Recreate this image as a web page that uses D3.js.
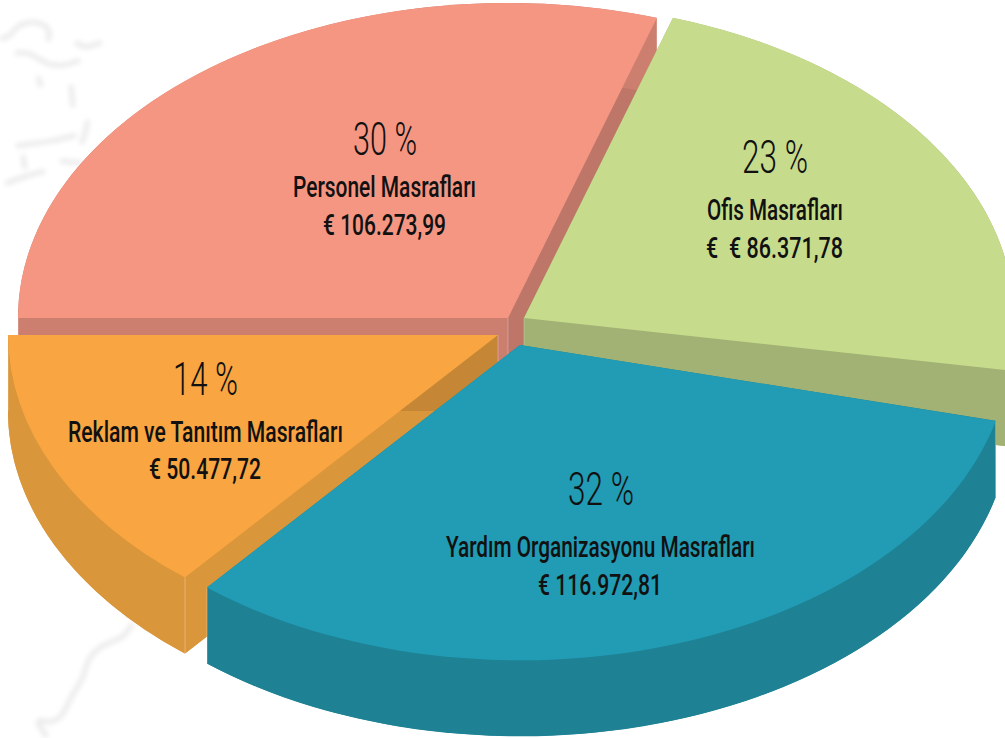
<!DOCTYPE html>
<html><head><meta charset="utf-8">
<script src="https://cdn.jsdelivr.net/npm/d3@7/dist/d3.min.js"></script>
<style>html,body{margin:0;padding:0;background:#fff}svg{display:block}text{font-family:Roboto,sans-serif;fill:#111}</style>
</head><body><svg id="c" width="1005" height="738"></svg>
<script>
const categories = ["Personel Masrafları","Ofis Masrafları","Yardım Organizasyonu Masrafları","Reklam ve Tanıtım Masrafları"];
const percents = [30,23,32,14];
const amounts = ["€ 106.273,99","€  € 86.371,78","€ 116.972,81","€ 50.477,72"];

const topColors = ["#f59682","#c7db8c","#219cb4","#f8a542"];
const rimColors = ["#cd7f6f","#a1b274","#1e8294","#da963a"];
const startWall = ["#cd7f6f","#a1b274","#1e8294","#da963a"];
const endWall = ["#bd7668","#a1b274","#1e8294","#c58736"];
const centers = [[508,318],[524,318],[520,345],[498,335]];
// small per-slice angle corrections (degrees) for the drawing's perspective
const trimStart=[0,-1.4,1.2,0.6], trimEnd=[-1.4,-3.2,0.6,0];
const RX=490, RY=315, DEPTH=76;
const paintOrder=[0,1,3,2];
// text layout: [x0,x1,baseline] for percent, name, amount
const pctBox=[[353,417,155],[742,808,173],[568,634,505],[173,238,395]];
const nameBox=[[293,476,197],[707,843,220],[446,755,557],[68,343,442]];
const amtBox=[[323,446,235],[706,843,258],[538,662,595],[149,261,479]];

const svg=d3.select("#c");
const defs=svg.append("defs");
defs.append("filter").attr("id","soft").attr("x","-30%").attr("y","-30%").attr("width","160%").attr("height","160%")
  .append("feGaussianBlur").attr("stdDeviation",2.6);

// faint map texture behind the pie
const texture=[
 [[0,39],[10,37],[15,28],[23,23],[40,21],[52,32],[47,41]],
 [[15,53],[30,52],[42,62],[60,67],[75,62],[80,60]],
 [[75,42],[85,49],[102,42]],
 [[38,76],[41,87]],[[71,85],[73,107]],
 [[88,120],[85,135],[81,144]],
 [[16,146],[35,143],[55,141],[76,135]],
 [[23,155],[25,169]],[[60,161],[82,163]],
 [[5,184],[25,176],[45,171]],
 [[133,623],[123,639],[107,642],[87,657],[85,677],[70,697],[63,717],[50,723],[37,720]],
 [[37,722],[47,737]]
];
const tex=d3.line().curve(d3.curveBasis);
svg.append("g").attr("filter","url(#soft)").selectAll("path").data(texture).join("path")
  .attr("d",tex).attr("fill","none").attr("stroke","#ebebeb").attr("stroke-width",5);

const rad=d3.scaleLinear().domain([0,180]).range([0,Math.PI]);
const pie=d3.pie().sort(null).startAngle(-Math.PI/2).endAngle(3*Math.PI/2);
const arcs=pie(percents).map((d,i)=>({...d,startAngle:d.startAngle+rad(trimStart[i]),endAngle:d.endAngle+rad(trimEnd[i])}));
const unitArc=d3.arc().innerRadius(0).outerRadius(1);
const pt=(i,a,dz=0)=>[centers[i][0]+RX*Math.sin(a),centers[i][1]-RY*Math.cos(a)+dz];

paintOrder.forEach(i=>{
  const d=arcs[i], g=svg.append("g"), c=centers[i];
  const tf=(dz)=>`translate(${c[0]},${c[1]+dz}) scale(${RX},${RY})`;
  // cut walls first
  g.append("path").attr("transform",tf(DEPTH)).attr("d",unitArc(d)).attr("fill",rimColors[i]);
  [[d.startAngle,startWall[i]],[d.endAngle,endWall[i]]].forEach(([a,col])=>{
    const q=[[c[0],c[1]],pt(i,a),pt(i,a,DEPTH),[c[0],c[1]+DEPTH]];
    g.append("path").attr("d",d3.line()(q)+"Z").attr("fill",col);
  });
  // rim
  const n=80, as=d3.range(n+1).map(k=>d.startAngle+(d.endAngle-d.startAngle)*k/n);
  const rim=[...as.map(a=>pt(i,a)),...as.slice().reverse().map(a=>pt(i,a,DEPTH))];
  g.append("path").attr("d",d3.line()(rim)+"Z").attr("fill",rimColors[i]);
  [d.startAngle,d.endAngle].forEach(a=>{
    const e=pt(i,a), e2=pt(i,a,DEPTH);
    g.append("line").attr("x1",e[0]).attr("y1",e[1]).attr("x2",e2[0]).attr("y2",e2[1])
      .attr("stroke","#fff").attr("stroke-opacity",.3);
  });
  g.append("line").attr("x1",c[0]).attr("y1",c[1]).attr("x2",c[0]).attr("y2",c[1]+DEPTH)
      .attr("stroke","#fff").attr("stroke-opacity",.25);
  g.append("path").attr("transform",tf(0)).attr("d",unitArc(d)).attr("fill",topColors[i]);
});

function put(s,box,size,weight){
  svg.append("text").attr("x",box[0]).attr("y",box[2]).attr("font-size",size).attr("font-weight",weight)
    .attr("textLength",box[1]-box[0]).attr("lengthAdjust","spacingAndGlyphs").style("white-space","pre").text(s);
}
categories.forEach((n,i)=>{
  put(percents[i]+" %",pctBox[i],47,300);
  put(n,nameBox[i],29,500);
  put(amounts[i],amtBox[i],29,500);
});
</script></body></html>
